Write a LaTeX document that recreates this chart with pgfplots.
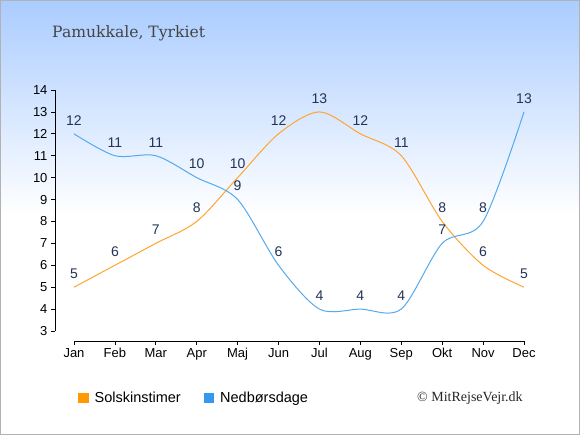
\documentclass[border=0pt]{standalone}
\usepackage{pgfplots}
\pgfplotsset{compat=1.18}
\usepackage{fontspec}
\setmainfont{Liberation Sans}
\newfontfamily\titlefont{DejaVu Serif}
\newfontfamily\copyfont{Liberation Serif}
\definecolor{topblue}{HTML}{AACCFF}
\definecolor{lorange}{HTML}{FFA530}
\definecolor{lblue}{HTML}{55AAEE}
\definecolor{sqorange}{HTML}{FF9900}
\definecolor{sqblue}{HTML}{3399EE}
\definecolor{valc}{HTML}{233355}
\definecolor{titc}{HTML}{444444}
\begin{document}
\begin{tikzpicture}[x=1pt,y=1pt]
\useasboundingbox (0,0) rectangle (580,435);
\fill[white] (0,0) rectangle (580,435);
\shade[top color=topblue, bottom color=white] (0,220) rectangle (580,435);
\draw[black!30, line width=1pt] (0.5,0.5) rectangle (579.5,434.5);
\node[anchor=base west, inner sep=0pt, text=titc, font=\titlefont\fontsize{15.6}{18}\selectfont] at (52,397.3) {Pamukkale, Tyrkiet};
\node[anchor=base west, inner sep=0pt, text=black!85, font=\copyfont\fontsize{14}{16}\selectfont] at (417,33.3) {© MitRejseVejr.dk};
\begin{axis}[
  at={(74pt,104pt)}, anchor=south west,
  scale only axis, width=450pt, height=241pt,
  xmin=0, xmax=11, ymin=3, ymax=14,
  axis x line*=bottom, axis y line*=left,
  axis x line shift=10pt, axis y line shift=19pt,
  xtick={0,...,11},
  xticklabels={Jan,Feb,Mar,Apr,Maj,Jun,Jul,Aug,Sep,Okt,Nov,Dec},
  ytick={3,...,14},
  tick align=outside, major tick length=4pt,
  tick style={black, line width=0.8pt},
  axis line style={black, line width=0.8pt, -},
  tick label style={font=\fontsize{13}{15}\selectfont, text=black},
  /pgf/number format/assume math mode=true,
  clip=false,
  point meta=y,
  every node near coord/.append style={font=\fontsize{14}{16}\selectfont, text=valc, anchor=center, yshift=13.5pt},
  legend style={at={(axis description cs:0.0089,-0.278)}, anchor=west, draw=none, fill=none, inner sep=0pt,
    font=\fontsize{14.5}{16}\selectfont, legend columns=2,
    nodes={inner sep=0pt},
    /tikz/every odd column/.append style={column sep=6.5pt},
    /tikz/every even column/.append style={column sep=23pt}},
]
\addplot[smooth, color=lorange, line width=1pt, nodes near coords, forget plot] coordinates {
(0,5)(1,6)(2,7)(3,8)(4,10)(5,12)(6,13)(7,12)(8,11)(9,8)(10,6)(11,5)};
\addplot[smooth, color=lblue, line width=1pt, nodes near coords, forget plot] coordinates {
(0,12)(1,11)(2,11)(3,10)(4,9)(5,6)(6,4)(7,4)(8,4)(9,7)(10,8)(11,13)};
\addlegendimage{legend image code/.code={\fill[sqorange] (0pt,-4.7pt) rectangle (9.5pt,4.7pt);}}
\addlegendentry{Solskinstimer}
\addlegendimage{legend image code/.code={\fill[sqblue] (0pt,-4.7pt) rectangle (9.5pt,4.7pt);}}
\addlegendentry{Nedbørsdage}
\end{axis}
\end{tikzpicture}
\end{document}
